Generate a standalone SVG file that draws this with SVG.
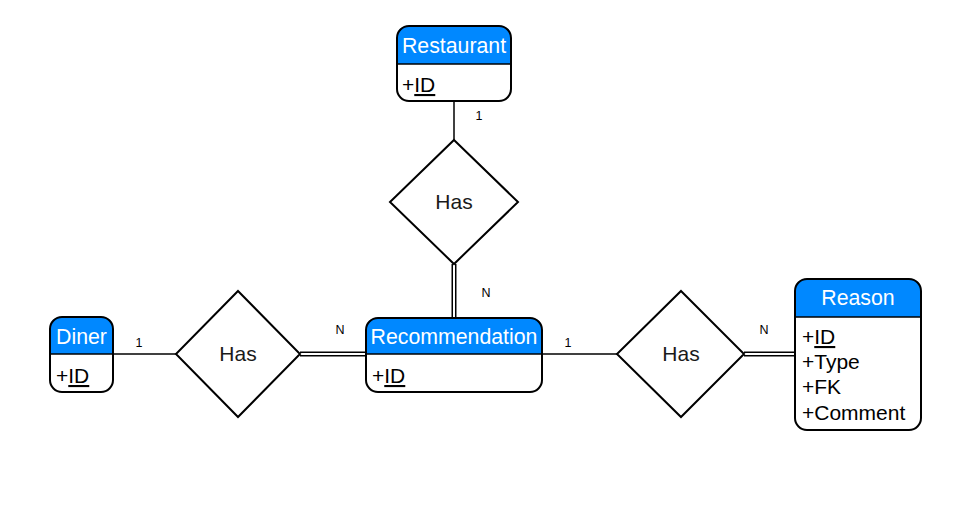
<svg xmlns="http://www.w3.org/2000/svg" width="969" height="505" viewBox="0 0 969 505">
<style>
.hdr{fill:#0088ff;}
.box{fill:none;stroke:#000;stroke-width:2;}
.sep{stroke:#000;stroke-width:1.5;}
.ht{font-family:"Liberation Sans",Arial,sans-serif;font-size:21.3px;fill:#fff;text-anchor:middle;}
.at{font-family:"Liberation Sans",Arial,sans-serif;font-size:21px;fill:#000;}
.dia{fill:#fff;stroke:#000;stroke-width:2;}
.dt{font-family:"Liberation Sans",Arial,sans-serif;font-size:21px;fill:#1a1a1a;text-anchor:middle;}
.lbl{font-family:"Liberation Sans",Arial,sans-serif;font-size:12.5px;fill:#000;text-anchor:middle;}
.ln{stroke:#000;stroke-width:1.5;fill:none;}
.dbl{stroke:#000;stroke-width:5;fill:none;}
.dbli{stroke:#fff;stroke-width:2;fill:none;}
</style>
<rect width="969" height="505" fill="#fff"/>
<g id="connectors">
<line class="ln" x1="454" y1="101" x2="454" y2="140"/>
<line class="dbl" x1="454" y1="264" x2="454" y2="318"/>
<line class="dbli" x1="454" y1="264" x2="454" y2="318"/>
<line class="ln" x1="113" y1="354" x2="176" y2="354"/>
<line class="dbl" x1="300" y1="354" x2="366" y2="354"/>
<line class="dbli" x1="300" y1="354" x2="366" y2="354"/>
<line class="ln" x1="542" y1="354" x2="617" y2="354"/>
<line class="dbl" x1="744" y1="354" x2="795" y2="354"/>
<line class="dbli" x1="744" y1="354" x2="795" y2="354"/>
<text class="lbl" x="479" y="120">1</text>
<text class="lbl" x="486" y="297">N</text>
<text class="lbl" x="139" y="347">1</text>
<text class="lbl" x="340" y="334">N</text>
<text class="lbl" x="568" y="347">1</text>
<text class="lbl" x="764" y="334">N</text>
</g>
<g id="restaurant">
<path class="hdr" d="M397,64 V38 Q397,26 409,26 H499 Q511,26 511,38 V64 Z"/>
<rect class="box" x="397" y="26" width="114" height="75" rx="12"/>
<line class="sep" x1="397" y1="64" x2="511" y2="64"/>
<text class="ht" x="454" y="53">Restaurant</text>
<text class="at" x="402" y="92">+<tspan text-decoration="underline">ID</tspan></text>
</g>
<g id="has-top">
<polygon class="dia" points="454,140 518,202 454,264 390,202"/>
<text class="dt" x="454" y="209">Has</text>
</g>
<g id="recommendation">
<path class="hdr" d="M366,354 V330 Q366,318 378,318 H530 Q542,318 542,330 V354 Z"/>
<rect class="box" x="366" y="318" width="176" height="74" rx="12"/>
<line class="sep" x1="366" y1="354" x2="542" y2="354"/>
<text class="ht" x="454" y="344">Recommendation</text>
<text class="at" x="372" y="383">+<tspan text-decoration="underline">ID</tspan></text>
</g>
<g id="diner">
<path class="hdr" d="M50,354 V329 Q50,317 62,317 H101 Q113,317 113,329 V354 Z"/>
<rect class="box" x="50" y="317" width="63" height="75" rx="12"/>
<line class="sep" x1="50" y1="354" x2="113" y2="354"/>
<text class="ht" x="81.5" y="344">Diner</text>
<text class="at" x="56" y="383">+<tspan text-decoration="underline">ID</tspan></text>
</g>
<g id="has-left">
<polygon class="dia" points="238,291 300,354 238,417 176,354"/>
<text class="dt" x="238" y="361">Has</text>
</g>
<g id="has-right">
<polygon class="dia" points="681,291 744,354 681,417 617,354"/>
<text class="dt" x="681" y="361">Has</text>
</g>
<g id="reason">
<path class="hdr" d="M795,317 V291 Q795,279 807,279 H909 Q921,279 921,291 V317 Z"/>
<rect class="box" x="795" y="279" width="126" height="151" rx="12"/>
<line class="sep" x1="795" y1="317" x2="921" y2="317"/>
<text class="ht" x="858" y="305">Reason</text>
<text class="at" x="802" y="344">+<tspan text-decoration="underline">ID</tspan></text>
<text class="at" x="802" y="369">+Type</text>
<text class="at" x="802" y="394">+FK</text>
<text class="at" x="802" y="420">+Comment</text>
</g>
</svg>
